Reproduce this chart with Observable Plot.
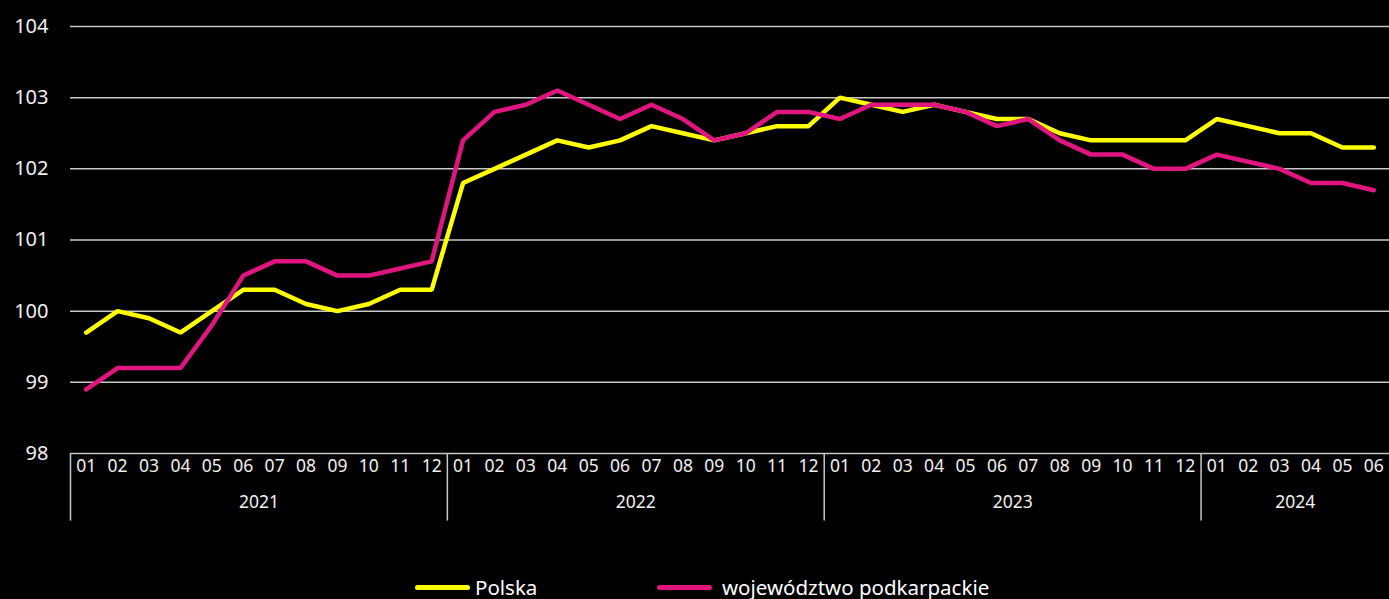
<!DOCTYPE html>
<html>
<head>
<meta charset="utf-8">
<script src="https://cdn.jsdelivr.net/npm/d3@7"></script>
<script src="https://cdn.jsdelivr.net/npm/@observablehq/plot@0.6"></script>
<style>
  html, body { margin: 0; padding: 0; background: #000; }
  body { width: 1389px; height: 599px; overflow: hidden; font-family: "Noto Sans", sans-serif; }
  #legend { position: relative; height: 54px; color: #fff; font-size: 20.5px; }
  .item { position: absolute; top: 32px; display: flex; align-items: center; height: 21px; line-height: 21px; }
  .sw { height: 5px; border-radius: 3px; }
</style>
</head>
<body>
<div id="chart"></div>
<div id="legend">
  <div class="item" style="left:415px"><div class="sw" style="width:55px;background:#ffff00"></div><span style="margin-left:5px">Polska</span></div>
  <div class="item" style="left:657px"><div class="sw" style="width:55px;background:#e0157f"></div><span style="margin-left:10px">województwo podkarpackie</span></div>
</div>
<script>
const years = ["2021", "2022", "2023", "2024"];
const monthsPerYear = [12, 12, 12, 6];
const monthLabels = ["01","02","03","04","05","06","07","08","09","10","11","12"];
const polska = [
  99.7, 100.0, 99.9, 99.7, 100.0, 100.3, 100.3, 100.1, 100.0, 100.1, 100.3, 100.3,
  101.8, 102.0, 102.2, 102.4, 102.3, 102.4, 102.6, 102.5, 102.4, 102.5, 102.6, 102.6,
  103.0, 102.9, 102.8, 102.9, 102.8, 102.7, 102.7, 102.5, 102.4, 102.4, 102.4, 102.4,
  102.7, 102.6, 102.5, 102.5, 102.3, 102.3
];
const podkarpackie = [
  98.9, 99.2, 99.2, 99.2, 99.8, 100.5, 100.7, 100.7, 100.5, 100.5, 100.6, 100.7,
  102.4, 102.8, 102.9, 103.1, 102.9, 102.7, 102.9, 102.7, 102.4, 102.5, 102.8, 102.8,
  102.7, 102.9, 102.9, 102.9, 102.8, 102.6, 102.7, 102.4, 102.2, 102.2, 102.0, 102.0,
  102.2, 102.1, 102.0, 101.8, 101.8, 101.7
];
const yTicks = [98, 99, 100, 101, 102, 103, 104];

// Build table
const months = [];
years.forEach((y, yi) => {
  for (let m = 0; m < monthsPerYear[yi]; m++) months.push({year: y, month: monthLabels[m]});
});
const rows = months.map((d, i) => ({i, ...d, polska: polska[i], podk: podkarpackie[i]}));
const n = rows.length;

// Year groups
const groups = [];
let start = 0;
years.forEach((y, yi) => {
  const end = start + monthsPerYear[yi] - 1;
  groups.push({year: y, start: start - 0.5, end: end + 0.5, mid: (start + end) / 2});
  start = end + 1;
});
const separators = groups.map(g => g.start);

const chart = Plot.plot({
  width: 1389,
  height: 545,
  marginLeft: 70,
  marginRight: 0,
  marginTop: 26,
  marginBottom: 92,
  style: {background: "#000", color: "#fff", fontFamily: "Noto Sans, sans-serif", overflow: "visible"},
  x: {domain: [-0.5, n - 0.5], axis: null},
  y: {domain: [98, 104], ticks: yTicks, tickSize: 0, tickPadding: 22, tickFormat: d => String(d), label: null},
  marks: [
    Plot.ruleY(yTicks, {x1: -0.5, x2: n - 0.5, stroke: "#c8c8c8", strokeWidth: 1.5}),
    Plot.ruleX(separators, {y1: 98, y2: 97.05, stroke: "#c8c8c8", strokeWidth: 1.5}),
    Plot.axisY({ticks: yTicks, tickSize: 0, tickPadding: 22, fontSize: 20, fill: "#f0f0f0", tickFormat: d => String(d), label: null}),
    Plot.text(rows, {x: "i", text: "month", frameAnchor: "bottom", dy: 18, fontSize: 17.5, fill: "#f0f0f0"}),
    Plot.text(groups, {x: "mid", text: "year", frameAnchor: "bottom", dy: 54, fontSize: 17.5, fill: "#f0f0f0"}),
    Plot.line(rows, {x: "i", y: "polska", stroke: "#ffff00", strokeWidth: 4.5, strokeLinejoin: "miter"}),
    Plot.line(rows, {x: "i", y: "podk", stroke: "#e0157f", strokeWidth: 4.5, strokeLinejoin: "miter"})
  ]
});
document.getElementById("chart").appendChild(chart);
</script>
</body>
</html>
